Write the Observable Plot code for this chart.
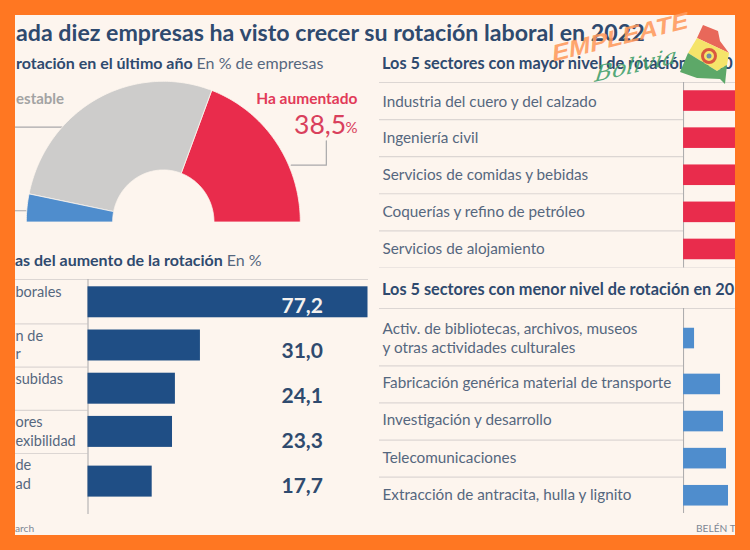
<!DOCTYPE html>
<html><head><meta charset="utf-8">
<script src="https://cdn.jsdelivr.net/npm/d3@7"></script>
<script src="https://cdn.jsdelivr.net/npm/@observablehq/plot@0.6"></script>
<style>
html,body{margin:0;padding:0;width:750px;height:550px;background:#ff7722;overflow:hidden}
#panel{position:absolute;left:15px;top:15px;width:720px;height:520px;background:#fdf5ee;overflow:hidden;font-family:Lato,sans-serif}
#panel svg{position:absolute;background:transparent;max-width:none}
.t{position:absolute;white-space:nowrap;color:#2f4a6e;line-height:1}
.h{font-size:16.3px;font-weight:700}
.l{font-size:16px;font-weight:700}
.h span,.l span{font-weight:400;color:#55677e}
.s{font-size:10.2px;color:#7d8794}
#logo{position:absolute;left:0;top:0;width:750px;height:550px;pointer-events:none}
</style></head>
<body><div id="panel"></div>
<svg id="logo" viewBox="0 0 750 550">
  <polygon points="703,25 718,31 720,41 729,53 697,38" fill="#e8685a"/>
  <polygon points="697,38 729,53 727,65 717,71 688,53" fill="#f5e46a"/>
  <polygon points="688,53 717,71 727,65 725,84 720,79 697,78 680,72" fill="#5da868"/>
  <circle cx="709" cy="56" r="6.5" fill="none" stroke="#d9583f" stroke-width="3"/>
  <circle cx="709" cy="56" r="2.5" fill="#6f8fa8"/>
  <text transform="translate(552,62) rotate(-14) skewX(-18)" font-family="Liberation Sans" font-weight="700" font-size="23" fill="#ff9a5c" fill-opacity=".88" textLength="140" lengthAdjust="spacingAndGlyphs">EMPLEATE</text>
  <text transform="translate(594,82) rotate(-13) skewX(-20)" font-family="DejaVu Serif" font-style="italic" font-size="21" fill="#3f9f6a" fill-opacity=".88" textLength="84" lengthAdjust="spacingAndGlyphs">Bolivia</text>
</svg>
<script>
// ---------- data ----------
const titleText = "ada diez empresas ha visto crecer su rotación laboral en 2022";
const donutNames = ["Ha aumentado", "Se ha mantenido estable", "Ha disminuido"];
const donutValues = [38.5, 55.1, 6.4];
const donutColors = ["#e92c4c", "#cdcccb", "#4f8dcd"];

const causeLabels = ["borales\n ", "n de\nr", "subidas\n ", "ores\nexibilidad", "de\nad"];
const causeValues = [77.2, 31.0, 24.1, 23.3, 17.7];

const topSectors = ["Industria del cuero y del calzado", "Ingeniería civil", "Servicios de comidas y bebidas", "Coquerías y refino de petróleo", "Servicios de alojamiento"];
const topValues = [5.5, 5.5, 5.5, 5.5, 5.5]; // bars run off the cropped edge
const lowSectors = ["Activ. de bibliotecas, archivos, museos\ny otras actividades culturales", "Fabricación genérica material de transporte", "Investigación y desarrollo", "Telecomunicaciones", "Extracción de antracita, hulla y lignito"];
const lowValues = [1.1, 3.7, 4.0, 4.3, 4.5];

// ---------- helpers ----------
const panel = document.getElementById("panel");
const F = "Lato, sans-serif";
const RULE = "#dcd6d3", AXIS = "#a9a8aa", INK = "#55677e", NAVY = "#2f4a6e";
function place(node, left, top) {
  node.style.left = (left - 15) + "px";
  node.style.top = (top - 15) + "px";
  panel.appendChild(node);
}
function label(html, cls, left, top) {
  const d = document.createElement("div");
  d.className = "t " + cls;
  d.innerHTML = html;
  place(d, left, top);
}
const num = v => v.toFixed(1).replace(".", ",");

// ---------- headings ----------
label(titleText, "", 16, 21);
panel.lastChild.style.cssText += "font-size:23.2px;font-weight:700;";
label('rotación en el último año <span>En % de empresas</span>', "l", 16, 55);
label('as del aumento de la rotación <span>En %</span>', "l", 15, 252);
label('Los 5 sectores con mayor nivel de rotación en 20', "h", 382, 55);
label('Los 5 sectores con menor nivel de rotación en 20', "h", 382, 281);
label('arch', "s", 15, 523);
label('BELÉN T', "s", 696, 523);

// ---------- half donut ----------
const inner = 0.37;
let acc = 0;
const donutPts = [];
donutValues.forEach((v, i) => {
  const a0 = acc / 100 * Math.PI, a1 = (acc + v) / 100 * Math.PI;
  acc += v;
  const n = Math.max(6, Math.round(v * 2));
  const ang = d3.range(n + 1).map(k => a0 + (a1 - a0) * k / n);
  ang.forEach(a => donutPts.push({name: donutNames[i], c: donutColors[i], x: Math.cos(a), y: Math.sin(a)}));
  ang.reverse().forEach(a => donutPts.push({name: donutNames[i], c: donutColors[i], x: inner * Math.cos(a), y: inner * Math.sin(a)}));
  donutPts.push({name: donutNames[i], c: donutColors[i], x: Math.cos(a0), y: Math.sin(a0)});
});
const leaders = [
  {k: "g", x: -1.08, y: 0.675}, {k: "g", x: -0.73, y: 0.675},
  {k: "b", x: -1.08, y: 0.08}, {k: "b", x: -1.0, y: 0.08},
  {k: "r", x: 0.934, y: 0.404}, {k: "r", x: 1.19, y: 0.404}, {k: "r", x: 1.19, y: 0.577}
];
place(Plot.plot({
  width: 360, height: 160, margin: 0,
  x: {axis: null, domain: [(15 - 162.8) / 137, (375 - 162.8) / 137]},
  y: {axis: null, domain: [(221.5 - 230) / 140.7, (221.5 - 70) / 140.7]},
  color: {type: "identity"},
  marks: [
    Plot.line(leaders, {x: "x", y: "y", z: "k", stroke: AXIS, strokeWidth: 1.2}),
    Plot.line(donutPts, {x: "x", y: "y", z: "name", fill: "c", stroke: "#fdf5ee", strokeWidth: 0.8, curve: "linear"}),
    Plot.text([donutNames[0]], {x: [1.417], y: [0.871], text: d => d, textAnchor: "end", fill: "#e23a58", fontSize: 15.5, fontWeight: 700, fontFamily: F}),
    Plot.text([num(donutValues[0])], {x: [1.335], y: [0.688], text: d => d, textAnchor: "end", fill: "#d9405c", fontSize: 26.5, fontWeight: 400, fontFamily: F}),
    Plot.text(["%"], {x: [1.417], y: [0.665], text: d => d, textAnchor: "end", fill: "#d9405c", fontSize: 15, fontFamily: F}),
    Plot.text(["estable"], {x: [-1.075], y: [0.871], text: d => d, textAnchor: "start", fill: "#a3a3a3", fontSize: 15, fontWeight: 700, fontFamily: F})
  ]
}), 15, 70);

// ---------- causes bars ----------
const causes = causeLabels.map((l, i) => ({l, v: causeValues[i]}));
const kx = 280 / 77.2;
const causeX = {axis: null, domain: [-72.5 / kx, 77.2]};
place(Plot.plot({
  width: 352.5, height: 235, margin: 0,
  x: causeX,
  y: {axis: null, domain: causeLabels, range: [7.3, 211.1], paddingInner: 0.283, paddingOuter: 0, round: false},
  marks: [
    Plot.frame({anchor: "top", stroke: RULE, strokeWidth: 1.2}),
    Plot.frame({anchor: "bottom", stroke: RULE, strokeWidth: 1.2}),
    Plot.ruleY(causeLabels.slice(0, 4), {y: d => d, x1: causeX.domain[0], x2: 0, dy: 21.6, stroke: RULE, strokeWidth: 1.2}),
    Plot.ruleX([0], {stroke: AXIS, strokeWidth: 1}),
    Plot.barX(causes.slice(0, 4), {x: "v", y: "l", fill: "#1f4e85"}),
    Plot.barX(causes.slice(4), {x: "v", y: "l", fill: "#1f4e85", dy: 6.5}),
    Plot.text(causes, {y: "l", text: "l", frameAnchor: "left", dy: -1.5, textAnchor: "start", fill: INK, fontSize: 14.5, lineHeight: 1.28, fontFamily: F})
  ]
}), 15, 279);
// value labels follow their own even spacing in the source
place(Plot.plot({
  width: 352.5, height: 225, margin: 0,
  x: causeX,
  y: {axis: null, domain: causeLabels, padding: 0.5, round: false},
  marks: [
    Plot.text(causes, {y: "l", text: d => num(d.v), frameAnchor: "right", dx: -86.5, textAnchor: "start",
      fill: d => d.v > 70 ? "#f4f1ee" : NAVY, fontSize: 21, fontWeight: 700, fontFamily: F})
  ]
}), 15, 283);

// ---------- sector bars ----------
function sectorPlot(names, values, color, insetTop, textShift) {
  const rows = names.map((n, i) => ({n, v: values[i]}));
  const dom = [-304.5 / 10, 5.2];
  return Plot.plot({
    width: 356, height: 185.5 + insetTop, margin: 0, insetTop,
    x: {axis: null, domain: dom},
    y: {axis: null, domain: names, paddingInner: 0.445, paddingOuter: 0.2225, round: false},
    marks: [
      Plot.frame({anchor: "top", stroke: RULE, strokeWidth: 1.2}),
      Plot.frame({anchor: "bottom", stroke: RULE, strokeWidth: 1.2}),
      Plot.ruleY(names.slice(0, 4), {y: d => d, x1: dom[0], x2: 0, dy: 18.5, stroke: RULE, strokeWidth: 1.2}),
      Plot.ruleX([0], {stroke: AXIS, strokeWidth: 1}),
      Plot.barX(rows.slice(1), {x: "v", y: "n", fill: color, clip: "frame"}),
      Plot.barX(rows.slice(0, 1), {x: "v", y: "n", fill: color, clip: "frame", dy: insetTop ? -8.8 : 0}),
      Plot.text(rows.slice(1), {y: "n", text: "n", frameAnchor: "left", dx: 3, dy: textShift, textAnchor: "start", fill: INK, fontSize: 15.3, fontFamily: F}),
      Plot.text(rows.slice(0, 1), {y: "n", text: "n", frameAnchor: "left", dx: 3, dy: (insetTop ? -8.8 : 0) + textShift, textAnchor: "start", fill: INK, fontSize: 15.3, lineHeight: 1.2, fontFamily: F})
    ]
  });
}
place(sectorPlot(topSectors, topValues, "#e92c4c", 0, 0), 379, 82);
place(sectorPlot(lowSectors, lowValues, "#4f8dcd", 20.3, -1), 379, 307.7);
</script>
</body></html>
